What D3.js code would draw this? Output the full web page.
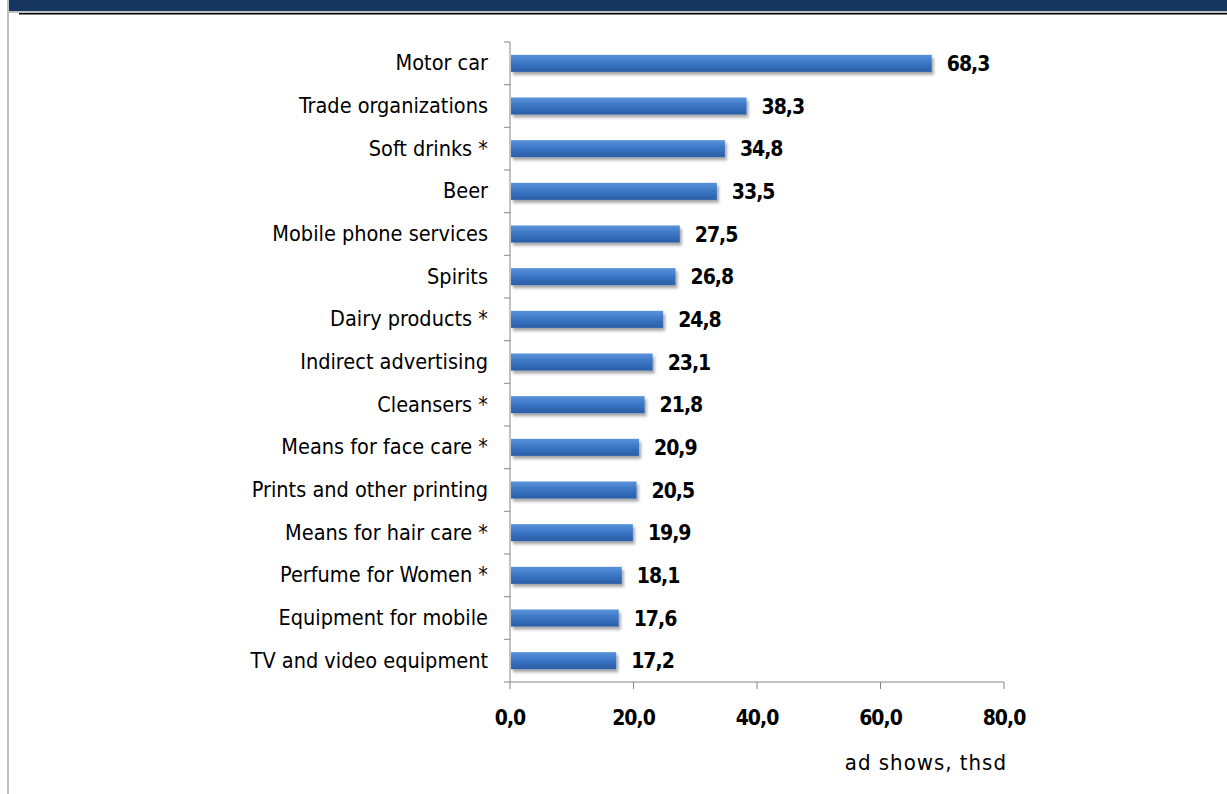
<!DOCTYPE html>
<html>
<head>
<meta charset="utf-8">
<script src="https://cdn.jsdelivr.net/npm/d3@7"></script>
<style>
  html, body { margin: 0; padding: 0; background: #fff; }
  svg { display: block; }
</style>
</head>
<body>
<svg id="chart" width="1227" height="794"></svg>
<script>
// Advertising categories, top to bottom
const categories = [
  "Motor car",
  "Trade organizations",
  "Soft drinks *",
  "Beer",
  "Mobile phone services",
  "Spirits",
  "Dairy products *",
  "Indirect advertising",
  "Cleansers *",
  "Means for face care *",
  "Prints and other printing",
  "Means for hair care *",
  "Perfume for Women *",
  "Equipment for mobile",
  "TV and video equipment"
];
// Number of ad shows, thousands
const values = [68.3, 38.3, 34.8, 33.5, 27.5, 26.8, 24.8, 23.1, 21.8, 20.9, 20.5, 19.9, 18.1, 17.6, 17.2];
const xTicks = [0, 20, 40, 60, 80];
const axisTitle = "ad shows, thsd";

(function () {
const svg = d3.select("#chart");
const fmt = v => d3.format(".1f")(v).replace(".", ",");
const font = "'DejaVu Sans Condensed', 'DejaVu Sans', sans-serif";

// Page frame: navy band, rules and left border
svg.append("rect").attr("x", 9).attr("y", 0).attr("width", 1218).attr("height", 11).attr("fill", "#17365d");
svg.append("rect").attr("x", 9).attr("y", 11).attr("width", 1218).attr("height", 2).attr("fill", "#c0c0c0");
svg.append("rect").attr("x", 19).attr("y", 13).attr("width", 1208).attr("height", 1.5).attr("fill", "#000");
svg.append("rect").attr("x", 7).attr("y", 0).attr("width", 2).attr("height", 794).attr("fill", "#c0c0c0");

const pLeft = 510, pRight = 1004, pTop = 42, pBottom = 682;

const x = d3.scaleLinear().domain([0, 80]).range([pLeft, pRight]);
const y = d3.scaleBand().domain(categories).range([pTop, pBottom]).paddingInner(0.6).paddingOuter(0.3);

const defs = svg.append("defs");
const grad = defs.append("linearGradient").attr("id", "barGrad").attr("x1", 0).attr("y1", 0).attr("x2", 0).attr("y2", 1);
grad.append("stop").attr("offset", "0%").attr("stop-color", "#5a93db");
grad.append("stop").attr("offset", "45%").attr("stop-color", "#3c77c6");
grad.append("stop").attr("offset", "100%").attr("stop-color", "#2a5da6");
const shadow = defs.append("filter").attr("id", "shadow").attr("x", "-10%").attr("y", "-50%").attr("width", "120%").attr("height", "220%");
shadow.append("feGaussianBlur").attr("in", "SourceAlpha").attr("stdDeviation", 1.6);
shadow.append("feOffset").attr("dx", 1.5).attr("dy", 2.5).attr("result", "off");
shadow.append("feComponentTransfer").append("feFuncA").attr("type", "linear").attr("slope", 0.35);
const merge = shadow.append("feMerge");
merge.append("feMergeNode");
merge.append("feMergeNode").attr("in", "SourceGraphic");

// Bars
svg.append("g").selectAll("rect").data(values).join("rect")
  .attr("x", x(0) + 1)
  .attr("y", (d, i) => y(categories[i]))
  .attr("width", d => x(d) - x(0) - 1)
  .attr("height", y.bandwidth())
  .attr("fill", "url(#barGrad)")
  .attr("filter", "url(#shadow)");

// Value labels
svg.append("g").selectAll("text").data(values).join("text")
  .attr("x", d => x(d) + 15)
  .attr("y", (d, i) => y(categories[i]) + y.bandwidth() / 2)
  .attr("dy", "0.37em")
  .attr("font-family", font)
  .attr("font-size", 21)
  .attr("font-weight", "bold")
  .attr("letter-spacing", -1)
  .attr("fill", "#000")
  .text(fmt);

// Category axis
const step = (pBottom - pTop) / categories.length;
const yAxis = svg.append("g");
yAxis.append("line").attr("x1", pLeft).attr("x2", pLeft).attr("y1", pTop).attr("y2", pBottom).attr("stroke", "#868686");
yAxis.selectAll("line.tick").data(d3.range(categories.length + 1)).join("line")
  .attr("class", "tick")
  .attr("x1", pLeft - 6).attr("x2", pLeft)
  .attr("y1", i => pTop + i * step).attr("y2", i => pTop + i * step)
  .attr("stroke", "#868686");
yAxis.selectAll("text").data(categories).join("text")
  .attr("x", pLeft - 22)
  .attr("y", d => y(d) + y.bandwidth() / 2)
  .attr("dy", "0.33em")
  .attr("text-anchor", "end")
  .attr("font-family", font)
  .attr("font-size", 21.5)
  .attr("fill", "#000")
  .text(d => d);

// Value axis
const xAxis = svg.append("g");
xAxis.append("line").attr("x1", pLeft).attr("x2", pRight).attr("y1", pBottom).attr("y2", pBottom).attr("stroke", "#868686");
xAxis.selectAll("line.tick").data(xTicks).join("line")
  .attr("class", "tick")
  .attr("x1", d => x(d)).attr("x2", d => x(d))
  .attr("y1", pBottom).attr("y2", pBottom + 7)
  .attr("stroke", "#868686");
xAxis.selectAll("text").data(xTicks).join("text")
  .attr("x", d => x(d))
  .attr("y", 725)
  .attr("text-anchor", "middle")
  .attr("font-family", font)
  .attr("font-size", 21)
  .attr("font-weight", "bold")
  .attr("letter-spacing", -1)
  .attr("fill", "#000")
  .text(fmt);

svg.append("text")
  .attr("x", 1007)
  .attr("y", 770)
  .attr("text-anchor", "end")
  .attr("font-family", font)
  .attr("font-size", 22)
  .attr("letter-spacing", 1)
  .attr("fill", "#000")
  .text(axisTitle);
})();
</script>
</body>
</html>
